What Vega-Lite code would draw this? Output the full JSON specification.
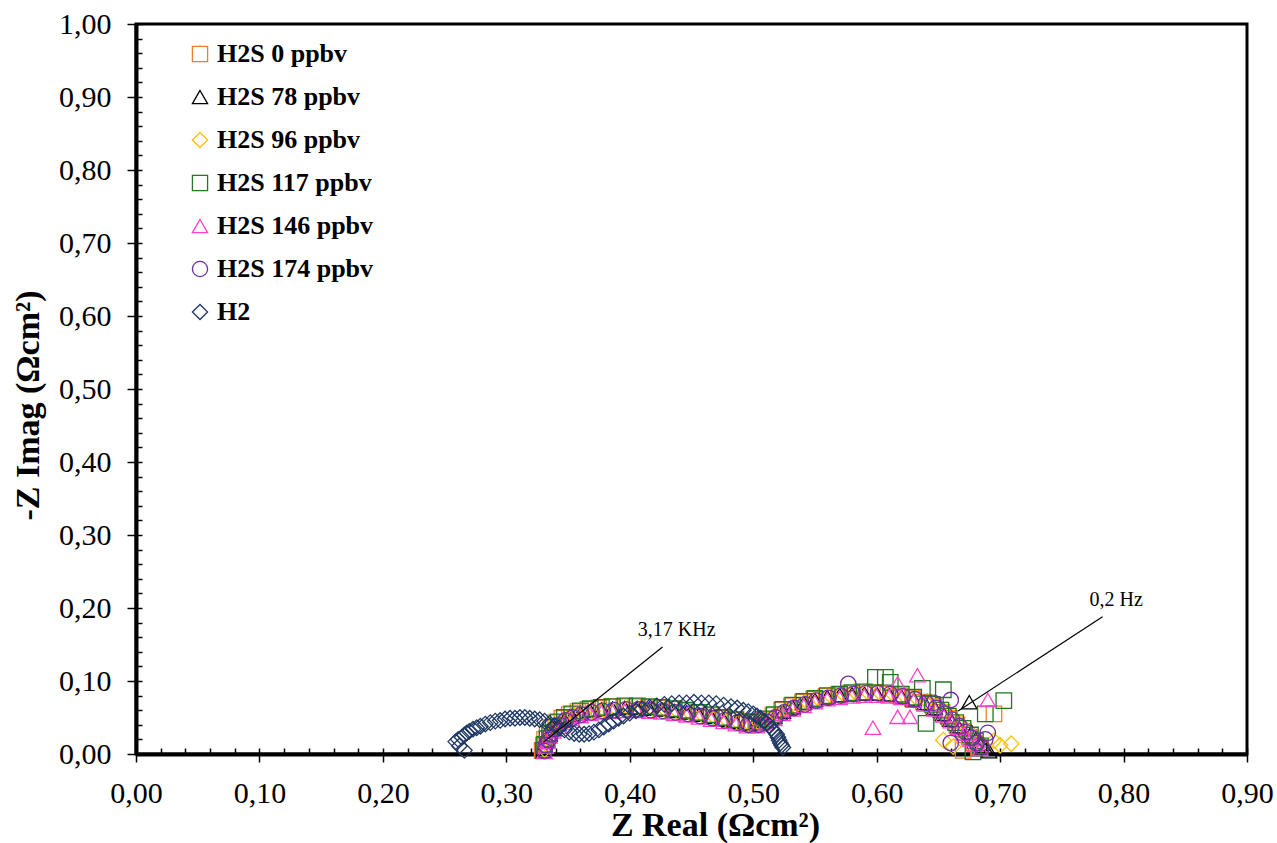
{
"$schema": "https://vega.github.io/schema/vega-lite/v6.json",
"width": 1111, "height": 730,
"autosize": {"type": "none"},
"padding": {"left": 136, "top": 24, "right": 30, "bottom": 89},
"background": "white",
"config": {"view": {"stroke": "black", "strokeWidth": 3}, "font": "Liberation Serif"},
"datasets": {
"pts": [
{"s":"H2S 0 ppbv","x":0.329,"y":0.005},{"s":"H2S 0 ppbv","x":0.330,"y":0.012},{"s":"H2S 0 ppbv","x":0.331,"y":0.020},{"s":"H2S 0 ppbv","x":0.333,"y":0.028},{"s":"H2S 0 ppbv","x":0.336,"y":0.036},{"s":"H2S 0 ppbv","x":0.340,"y":0.043},{"s":"H2S 0 ppbv","x":0.345,"y":0.049},{"s":"H2S 0 ppbv","x":0.351,"y":0.054},{"s":"H2S 0 ppbv","x":0.358,"y":0.058},{"s":"H2S 0 ppbv","x":0.366,"y":0.061},{"s":"H2S 0 ppbv","x":0.375,"y":0.063},{"s":"H2S 0 ppbv","x":0.385,"y":0.065},{"s":"H2S 0 ppbv","x":0.395,"y":0.065},{"s":"H2S 0 ppbv","x":0.405,"y":0.065},{"s":"H2S 0 ppbv","x":0.415,"y":0.064},{"s":"H2S 0 ppbv","x":0.425,"y":0.063},{"s":"H2S 0 ppbv","x":0.435,"y":0.061},{"s":"H2S 0 ppbv","x":0.445,"y":0.059},{"s":"H2S 0 ppbv","x":0.455,"y":0.056},{"s":"H2S 0 ppbv","x":0.465,"y":0.053},{"s":"H2S 0 ppbv","x":0.475,"y":0.049},{"s":"H2S 0 ppbv","x":0.485,"y":0.046},{"s":"H2S 0 ppbv","x":0.494,"y":0.043},{"s":"H2S 0 ppbv","x":0.502,"y":0.043},{"s":"H2S 0 ppbv","x":0.509,"y":0.047},{"s":"H2S 0 ppbv","x":0.516,"y":0.053},{"s":"H2S 0 ppbv","x":0.523,"y":0.060},{"s":"H2S 0 ppbv","x":0.531,"y":0.066},{"s":"H2S 0 ppbv","x":0.540,"y":0.071},{"s":"H2S 0 ppbv","x":0.549,"y":0.075},{"s":"H2S 0 ppbv","x":0.559,"y":0.079},{"s":"H2S 0 ppbv","x":0.569,"y":0.081},{"s":"H2S 0 ppbv","x":0.579,"y":0.083},{"s":"H2S 0 ppbv","x":0.589,"y":0.084},{"s":"H2S 0 ppbv","x":0.599,"y":0.084},{"s":"H2S 0 ppbv","x":0.609,"y":0.082},{"s":"H2S 0 ppbv","x":0.619,"y":0.080},{"s":"H2S 0 ppbv","x":0.629,"y":0.076},{"s":"H2S 0 ppbv","x":0.638,"y":0.071},{"s":"H2S 0 ppbv","x":0.646,"y":0.065},{"s":"H2S 0 ppbv","x":0.653,"y":0.057},{"s":"H2S 0 ppbv","x":0.659,"y":0.049},{"s":"H2S 0 ppbv","x":0.665,"y":0.040},{"s":"H2S 0 ppbv","x":0.670,"y":0.031},{"s":"H2S 0 ppbv","x":0.675,"y":0.023},{"s":"H2S 0 ppbv","x":0.679,"y":0.015},{"s":"H2S 0 ppbv","x":0.683,"y":0.009},{"s":"H2S 0 ppbv","x":0.695,"y":0.055},{"s":"H2S 0 ppbv","x":0.670,"y":0.005},
{"s":"H2S 78 ppbv","x":0.330,"y":0.004},{"s":"H2S 78 ppbv","x":0.331,"y":0.011},{"s":"H2S 78 ppbv","x":0.333,"y":0.019},{"s":"H2S 78 ppbv","x":0.335,"y":0.027},{"s":"H2S 78 ppbv","x":0.338,"y":0.034},{"s":"H2S 78 ppbv","x":0.342,"y":0.041},{"s":"H2S 78 ppbv","x":0.347,"y":0.047},{"s":"H2S 78 ppbv","x":0.353,"y":0.052},{"s":"H2S 78 ppbv","x":0.360,"y":0.056},{"s":"H2S 78 ppbv","x":0.368,"y":0.059},{"s":"H2S 78 ppbv","x":0.377,"y":0.061},{"s":"H2S 78 ppbv","x":0.386,"y":0.062},{"s":"H2S 78 ppbv","x":0.396,"y":0.063},{"s":"H2S 78 ppbv","x":0.406,"y":0.063},{"s":"H2S 78 ppbv","x":0.416,"y":0.062},{"s":"H2S 78 ppbv","x":0.426,"y":0.061},{"s":"H2S 78 ppbv","x":0.436,"y":0.059},{"s":"H2S 78 ppbv","x":0.446,"y":0.057},{"s":"H2S 78 ppbv","x":0.456,"y":0.054},{"s":"H2S 78 ppbv","x":0.466,"y":0.051},{"s":"H2S 78 ppbv","x":0.476,"y":0.047},{"s":"H2S 78 ppbv","x":0.486,"y":0.044},{"s":"H2S 78 ppbv","x":0.495,"y":0.041},{"s":"H2S 78 ppbv","x":0.503,"y":0.041},{"s":"H2S 78 ppbv","x":0.510,"y":0.045},{"s":"H2S 78 ppbv","x":0.517,"y":0.051},{"s":"H2S 78 ppbv","x":0.524,"y":0.058},{"s":"H2S 78 ppbv","x":0.532,"y":0.064},{"s":"H2S 78 ppbv","x":0.541,"y":0.070},{"s":"H2S 78 ppbv","x":0.550,"y":0.074},{"s":"H2S 78 ppbv","x":0.560,"y":0.078},{"s":"H2S 78 ppbv","x":0.570,"y":0.081},{"s":"H2S 78 ppbv","x":0.580,"y":0.082},{"s":"H2S 78 ppbv","x":0.590,"y":0.083},{"s":"H2S 78 ppbv","x":0.600,"y":0.083},{"s":"H2S 78 ppbv","x":0.610,"y":0.082},{"s":"H2S 78 ppbv","x":0.620,"y":0.079},{"s":"H2S 78 ppbv","x":0.630,"y":0.075},{"s":"H2S 78 ppbv","x":0.639,"y":0.070},{"s":"H2S 78 ppbv","x":0.647,"y":0.063},{"s":"H2S 78 ppbv","x":0.654,"y":0.055},{"s":"H2S 78 ppbv","x":0.660,"y":0.047},{"s":"H2S 78 ppbv","x":0.666,"y":0.038},{"s":"H2S 78 ppbv","x":0.675,"y":0.071},{"s":"H2S 78 ppbv","x":0.677,"y":0.030},{"s":"H2S 78 ppbv","x":0.681,"y":0.022},{"s":"H2S 78 ppbv","x":0.685,"y":0.014},{"s":"H2S 78 ppbv","x":0.688,"y":0.008},{"s":"H2S 78 ppbv","x":0.691,"y":0.004},
{"s":"H2S 96 ppbv","x":0.331,"y":0.006},{"s":"H2S 96 ppbv","x":0.332,"y":0.014},{"s":"H2S 96 ppbv","x":0.334,"y":0.022},{"s":"H2S 96 ppbv","x":0.336,"y":0.030},{"s":"H2S 96 ppbv","x":0.339,"y":0.037},{"s":"H2S 96 ppbv","x":0.343,"y":0.043},{"s":"H2S 96 ppbv","x":0.348,"y":0.049},{"s":"H2S 96 ppbv","x":0.355,"y":0.053},{"s":"H2S 96 ppbv","x":0.362,"y":0.057},{"s":"H2S 96 ppbv","x":0.370,"y":0.059},{"s":"H2S 96 ppbv","x":0.379,"y":0.061},{"s":"H2S 96 ppbv","x":0.389,"y":0.062},{"s":"H2S 96 ppbv","x":0.399,"y":0.063},{"s":"H2S 96 ppbv","x":0.409,"y":0.062},{"s":"H2S 96 ppbv","x":0.419,"y":0.062},{"s":"H2S 96 ppbv","x":0.429,"y":0.060},{"s":"H2S 96 ppbv","x":0.439,"y":0.058},{"s":"H2S 96 ppbv","x":0.449,"y":0.056},{"s":"H2S 96 ppbv","x":0.459,"y":0.053},{"s":"H2S 96 ppbv","x":0.469,"y":0.050},{"s":"H2S 96 ppbv","x":0.479,"y":0.046},{"s":"H2S 96 ppbv","x":0.488,"y":0.043},{"s":"H2S 96 ppbv","x":0.497,"y":0.041},{"s":"H2S 96 ppbv","x":0.505,"y":0.042},{"s":"H2S 96 ppbv","x":0.512,"y":0.047},{"s":"H2S 96 ppbv","x":0.519,"y":0.053},{"s":"H2S 96 ppbv","x":0.526,"y":0.060},{"s":"H2S 96 ppbv","x":0.534,"y":0.066},{"s":"H2S 96 ppbv","x":0.543,"y":0.072},{"s":"H2S 96 ppbv","x":0.552,"y":0.077},{"s":"H2S 96 ppbv","x":0.562,"y":0.081},{"s":"H2S 96 ppbv","x":0.572,"y":0.084},{"s":"H2S 96 ppbv","x":0.582,"y":0.086},{"s":"H2S 96 ppbv","x":0.592,"y":0.086},{"s":"H2S 96 ppbv","x":0.602,"y":0.085},{"s":"H2S 96 ppbv","x":0.612,"y":0.084},{"s":"H2S 96 ppbv","x":0.622,"y":0.081},{"s":"H2S 96 ppbv","x":0.632,"y":0.077},{"s":"H2S 96 ppbv","x":0.641,"y":0.072},{"s":"H2S 96 ppbv","x":0.649,"y":0.066},{"s":"H2S 96 ppbv","x":0.656,"y":0.058},{"s":"H2S 96 ppbv","x":0.662,"y":0.050},{"s":"H2S 96 ppbv","x":0.668,"y":0.041},{"s":"H2S 96 ppbv","x":0.673,"y":0.033},{"s":"H2S 96 ppbv","x":0.678,"y":0.025},{"s":"H2S 96 ppbv","x":0.683,"y":0.018},{"s":"H2S 96 ppbv","x":0.654,"y":0.019},{"s":"H2S 96 ppbv","x":0.662,"y":0.010},{"s":"H2S 96 ppbv","x":0.695,"y":0.018},{"s":"H2S 96 ppbv","x":0.700,"y":0.012},{"s":"H2S 96 ppbv","x":0.709,"y":0.014},
{"s":"H2S 117 ppbv","x":0.330,"y":0.005},{"s":"H2S 117 ppbv","x":0.331,"y":0.013},{"s":"H2S 117 ppbv","x":0.333,"y":0.021},{"s":"H2S 117 ppbv","x":0.335,"y":0.029},{"s":"H2S 117 ppbv","x":0.338,"y":0.037},{"s":"H2S 117 ppbv","x":0.342,"y":0.044},{"s":"H2S 117 ppbv","x":0.347,"y":0.050},{"s":"H2S 117 ppbv","x":0.353,"y":0.055},{"s":"H2S 117 ppbv","x":0.360,"y":0.059},{"s":"H2S 117 ppbv","x":0.368,"y":0.062},{"s":"H2S 117 ppbv","x":0.377,"y":0.064},{"s":"H2S 117 ppbv","x":0.386,"y":0.065},{"s":"H2S 117 ppbv","x":0.396,"y":0.066},{"s":"H2S 117 ppbv","x":0.406,"y":0.066},{"s":"H2S 117 ppbv","x":0.416,"y":0.065},{"s":"H2S 117 ppbv","x":0.426,"y":0.064},{"s":"H2S 117 ppbv","x":0.436,"y":0.062},{"s":"H2S 117 ppbv","x":0.446,"y":0.060},{"s":"H2S 117 ppbv","x":0.456,"y":0.057},{"s":"H2S 117 ppbv","x":0.466,"y":0.054},{"s":"H2S 117 ppbv","x":0.476,"y":0.050},{"s":"H2S 117 ppbv","x":0.486,"y":0.047},{"s":"H2S 117 ppbv","x":0.495,"y":0.044},{"s":"H2S 117 ppbv","x":0.503,"y":0.044},{"s":"H2S 117 ppbv","x":0.510,"y":0.048},{"s":"H2S 117 ppbv","x":0.517,"y":0.054},{"s":"H2S 117 ppbv","x":0.524,"y":0.061},{"s":"H2S 117 ppbv","x":0.532,"y":0.067},{"s":"H2S 117 ppbv","x":0.541,"y":0.072},{"s":"H2S 117 ppbv","x":0.550,"y":0.076},{"s":"H2S 117 ppbv","x":0.560,"y":0.080},{"s":"H2S 117 ppbv","x":0.570,"y":0.082},{"s":"H2S 117 ppbv","x":0.580,"y":0.084},{"s":"H2S 117 ppbv","x":0.590,"y":0.085},{"s":"H2S 117 ppbv","x":0.599,"y":0.105},{"s":"H2S 117 ppbv","x":0.607,"y":0.105},{"s":"H2S 117 ppbv","x":0.611,"y":0.098},{"s":"H2S 117 ppbv","x":0.620,"y":0.082},{"s":"H2S 117 ppbv","x":0.630,"y":0.078},{"s":"H2S 117 ppbv","x":0.637,"y":0.090},{"s":"H2S 117 ppbv","x":0.645,"y":0.068},{"s":"H2S 117 ppbv","x":0.654,"y":0.088},{"s":"H2S 117 ppbv","x":0.652,"y":0.060},{"s":"H2S 117 ppbv","x":0.658,"y":0.052},{"s":"H2S 117 ppbv","x":0.664,"y":0.043},{"s":"H2S 117 ppbv","x":0.640,"y":0.042},{"s":"H2S 117 ppbv","x":0.670,"y":0.035},{"s":"H2S 117 ppbv","x":0.676,"y":0.026},{"s":"H2S 117 ppbv","x":0.680,"y":0.018},{"s":"H2S 117 ppbv","x":0.684,"y":0.011},{"s":"H2S 117 ppbv","x":0.688,"y":0.055},{"s":"H2S 117 ppbv","x":0.703,"y":0.073},{"s":"H2S 117 ppbv","x":0.678,"y":0.003},
{"s":"H2S 146 ppbv","x":0.331,"y":0.003},{"s":"H2S 146 ppbv","x":0.332,"y":0.010},{"s":"H2S 146 ppbv","x":0.333,"y":0.017},{"s":"H2S 146 ppbv","x":0.335,"y":0.024},{"s":"H2S 146 ppbv","x":0.338,"y":0.031},{"s":"H2S 146 ppbv","x":0.342,"y":0.037},{"s":"H2S 146 ppbv","x":0.347,"y":0.043},{"s":"H2S 146 ppbv","x":0.353,"y":0.048},{"s":"H2S 146 ppbv","x":0.360,"y":0.052},{"s":"H2S 146 ppbv","x":0.368,"y":0.055},{"s":"H2S 146 ppbv","x":0.377,"y":0.057},{"s":"H2S 146 ppbv","x":0.386,"y":0.058},{"s":"H2S 146 ppbv","x":0.396,"y":0.059},{"s":"H2S 146 ppbv","x":0.406,"y":0.059},{"s":"H2S 146 ppbv","x":0.416,"y":0.058},{"s":"H2S 146 ppbv","x":0.426,"y":0.057},{"s":"H2S 146 ppbv","x":0.436,"y":0.055},{"s":"H2S 146 ppbv","x":0.446,"y":0.053},{"s":"H2S 146 ppbv","x":0.456,"y":0.050},{"s":"H2S 146 ppbv","x":0.466,"y":0.047},{"s":"H2S 146 ppbv","x":0.476,"y":0.044},{"s":"H2S 146 ppbv","x":0.486,"y":0.041},{"s":"H2S 146 ppbv","x":0.495,"y":0.038},{"s":"H2S 146 ppbv","x":0.503,"y":0.038},{"s":"H2S 146 ppbv","x":0.510,"y":0.042},{"s":"H2S 146 ppbv","x":0.517,"y":0.048},{"s":"H2S 146 ppbv","x":0.524,"y":0.055},{"s":"H2S 146 ppbv","x":0.532,"y":0.061},{"s":"H2S 146 ppbv","x":0.541,"y":0.066},{"s":"H2S 146 ppbv","x":0.550,"y":0.071},{"s":"H2S 146 ppbv","x":0.560,"y":0.075},{"s":"H2S 146 ppbv","x":0.570,"y":0.077},{"s":"H2S 146 ppbv","x":0.580,"y":0.079},{"s":"H2S 146 ppbv","x":0.590,"y":0.080},{"s":"H2S 146 ppbv","x":0.597,"y":0.036},{"s":"H2S 146 ppbv","x":0.600,"y":0.080},{"s":"H2S 146 ppbv","x":0.610,"y":0.079},{"s":"H2S 146 ppbv","x":0.617,"y":0.051},{"s":"H2S 146 ppbv","x":0.617,"y":0.097},{"s":"H2S 146 ppbv","x":0.620,"y":0.077},{"s":"H2S 146 ppbv","x":0.627,"y":0.051},{"s":"H2S 146 ppbv","x":0.633,"y":0.108},{"s":"H2S 146 ppbv","x":0.630,"y":0.073},{"s":"H2S 146 ppbv","x":0.639,"y":0.068},{"s":"H2S 146 ppbv","x":0.647,"y":0.061},{"s":"H2S 146 ppbv","x":0.654,"y":0.053},{"s":"H2S 146 ppbv","x":0.660,"y":0.045},{"s":"H2S 146 ppbv","x":0.666,"y":0.036},{"s":"H2S 146 ppbv","x":0.671,"y":0.028},{"s":"H2S 146 ppbv","x":0.676,"y":0.020},{"s":"H2S 146 ppbv","x":0.680,"y":0.013},{"s":"H2S 146 ppbv","x":0.690,"y":0.074},{"s":"H2S 146 ppbv","x":0.684,"y":0.007},
{"s":"H2S 174 ppbv","x":0.331,"y":0.004},{"s":"H2S 174 ppbv","x":0.332,"y":0.012},{"s":"H2S 174 ppbv","x":0.334,"y":0.019},{"s":"H2S 174 ppbv","x":0.336,"y":0.027},{"s":"H2S 174 ppbv","x":0.339,"y":0.034},{"s":"H2S 174 ppbv","x":0.343,"y":0.040},{"s":"H2S 174 ppbv","x":0.348,"y":0.046},{"s":"H2S 174 ppbv","x":0.354,"y":0.050},{"s":"H2S 174 ppbv","x":0.361,"y":0.054},{"s":"H2S 174 ppbv","x":0.369,"y":0.057},{"s":"H2S 174 ppbv","x":0.378,"y":0.059},{"s":"H2S 174 ppbv","x":0.387,"y":0.060},{"s":"H2S 174 ppbv","x":0.397,"y":0.061},{"s":"H2S 174 ppbv","x":0.407,"y":0.061},{"s":"H2S 174 ppbv","x":0.417,"y":0.060},{"s":"H2S 174 ppbv","x":0.427,"y":0.059},{"s":"H2S 174 ppbv","x":0.437,"y":0.057},{"s":"H2S 174 ppbv","x":0.447,"y":0.055},{"s":"H2S 174 ppbv","x":0.457,"y":0.052},{"s":"H2S 174 ppbv","x":0.467,"y":0.049},{"s":"H2S 174 ppbv","x":0.477,"y":0.046},{"s":"H2S 174 ppbv","x":0.487,"y":0.043},{"s":"H2S 174 ppbv","x":0.496,"y":0.040},{"s":"H2S 174 ppbv","x":0.504,"y":0.040},{"s":"H2S 174 ppbv","x":0.511,"y":0.044},{"s":"H2S 174 ppbv","x":0.518,"y":0.050},{"s":"H2S 174 ppbv","x":0.525,"y":0.057},{"s":"H2S 174 ppbv","x":0.533,"y":0.063},{"s":"H2S 174 ppbv","x":0.542,"y":0.068},{"s":"H2S 174 ppbv","x":0.551,"y":0.073},{"s":"H2S 174 ppbv","x":0.561,"y":0.077},{"s":"H2S 174 ppbv","x":0.571,"y":0.080},{"s":"H2S 174 ppbv","x":0.577,"y":0.096},{"s":"H2S 174 ppbv","x":0.581,"y":0.082},{"s":"H2S 174 ppbv","x":0.591,"y":0.083},{"s":"H2S 174 ppbv","x":0.601,"y":0.083},{"s":"H2S 174 ppbv","x":0.611,"y":0.082},{"s":"H2S 174 ppbv","x":0.621,"y":0.079},{"s":"H2S 174 ppbv","x":0.631,"y":0.075},{"s":"H2S 174 ppbv","x":0.640,"y":0.070},{"s":"H2S 174 ppbv","x":0.646,"y":0.070},{"s":"H2S 174 ppbv","x":0.648,"y":0.063},{"s":"H2S 174 ppbv","x":0.655,"y":0.055},{"s":"H2S 174 ppbv","x":0.660,"y":0.074},{"s":"H2S 174 ppbv","x":0.661,"y":0.047},{"s":"H2S 174 ppbv","x":0.667,"y":0.038},{"s":"H2S 174 ppbv","x":0.660,"y":0.015},{"s":"H2S 174 ppbv","x":0.672,"y":0.030},{"s":"H2S 174 ppbv","x":0.677,"y":0.022},{"s":"H2S 174 ppbv","x":0.681,"y":0.015},{"s":"H2S 174 ppbv","x":0.685,"y":0.009},{"s":"H2S 174 ppbv","x":0.690,"y":0.029},{"s":"H2S 174 ppbv","x":0.688,"y":0.020},
{"s":"H2","x":0.259,"y":0.017},{"s":"H2","x":0.262,"y":0.011},{"s":"H2","x":0.266,"y":0.005},{"s":"H2","x":0.261,"y":0.020},{"s":"H2","x":0.264,"y":0.023},{"s":"H2","x":0.266,"y":0.026},{"s":"H2","x":0.268,"y":0.029},{"s":"H2","x":0.270,"y":0.031},{"s":"H2","x":0.273,"y":0.034},{"s":"H2","x":0.276,"y":0.036},{"s":"H2","x":0.279,"y":0.038},{"s":"H2","x":0.283,"y":0.041},{"s":"H2","x":0.287,"y":0.043},{"s":"H2","x":0.291,"y":0.045},{"s":"H2","x":0.295,"y":0.046},{"s":"H2","x":0.299,"y":0.048},{"s":"H2","x":0.303,"y":0.049},{"s":"H2","x":0.307,"y":0.049},{"s":"H2","x":0.311,"y":0.050},{"s":"H2","x":0.315,"y":0.050},{"s":"H2","x":0.319,"y":0.049},{"s":"H2","x":0.323,"y":0.048},{"s":"H2","x":0.327,"y":0.047},{"s":"H2","x":0.331,"y":0.045},{"s":"H2","x":0.335,"y":0.042},{"s":"H2","x":0.339,"y":0.039},{"s":"H2","x":0.343,"y":0.036},{"s":"H2","x":0.347,"y":0.033},{"s":"H2","x":0.351,"y":0.030},{"s":"H2","x":0.355,"y":0.028},{"s":"H2","x":0.359,"y":0.027},{"s":"H2","x":0.363,"y":0.027},{"s":"H2","x":0.367,"y":0.028},{"s":"H2","x":0.371,"y":0.030},{"s":"H2","x":0.375,"y":0.033},{"s":"H2","x":0.379,"y":0.037},{"s":"H2","x":0.383,"y":0.041},{"s":"H2","x":0.387,"y":0.045},{"s":"H2","x":0.391,"y":0.049},{"s":"H2","x":0.395,"y":0.052},{"s":"H2","x":0.400,"y":0.056},{"s":"H2","x":0.405,"y":0.059},{"s":"H2","x":0.410,"y":0.062},{"s":"H2","x":0.416,"y":0.064},{"s":"H2","x":0.422,"y":0.066},{"s":"H2","x":0.428,"y":0.068},{"s":"H2","x":0.434,"y":0.069},{"s":"H2","x":0.440,"y":0.070},{"s":"H2","x":0.446,"y":0.070},{"s":"H2","x":0.452,"y":0.071},{"s":"H2","x":0.458,"y":0.070},{"s":"H2","x":0.464,"y":0.070},{"s":"H2","x":0.470,"y":0.069},{"s":"H2","x":0.476,"y":0.067},{"s":"H2","x":0.482,"y":0.065},{"s":"H2","x":0.487,"y":0.063},{"s":"H2","x":0.492,"y":0.060},{"s":"H2","x":0.496,"y":0.058},{"s":"H2","x":0.500,"y":0.055},{"s":"H2","x":0.503,"y":0.052},{"s":"H2","x":0.506,"y":0.049},{"s":"H2","x":0.509,"y":0.045},{"s":"H2","x":0.511,"y":0.042},{"s":"H2","x":0.513,"y":0.039},{"s":"H2","x":0.515,"y":0.035},{"s":"H2","x":0.517,"y":0.031},{"s":"H2","x":0.519,"y":0.027},{"s":"H2","x":0.520,"y":0.023},{"s":"H2","x":0.521,"y":0.019},{"s":"H2","x":0.522,"y":0.015},{"s":"H2","x":0.523,"y":0.012},{"s":"H2","x":0.524,"y":0.009}
],
"lines": [
{"x":0.4265,"y":0.1466,"x2":0.330,"y2":0.016},
{"x":0.783,"y":0.188,"x2":0.666,"y2":0.059}
],
"labels": [
{"x":0.438,"y":0.170,"t":"3,17 KHz"},
{"x":0.794,"y":0.211,"t":"0,2 Hz"}
]
},
"layer": [
{
"data": {"name": "pts"},
"mark": {"type": "point", "filled": false, "strokeWidth": 1.3, "size": 240, "opacity": 1},
"encoding": {
"x": {"field": "x", "type": "quantitative", "scale": {"domain": [0, 0.9], "nice": false, "zero": false},
 "axis": {"orient": "bottom", "values": [0,0.1,0.2,0.3,0.4,0.5,0.6,0.7,0.8,0.9], "labelExpr": "replace(format(datum.value,'.2f'),'.',',')", "labelFont": "Liberation Serif", "labelFontSize": 30, "labelColor": "black", "labelFlush": false, "labelOverlap": false, "labelPadding": 16, "tickColor": "black", "tickSize": 8, "tickWidth": 1.5, "domainColor": "black", "domainWidth": 4, "grid": false, "title": "Z Real (Ωcm²)", "titleFont": "Liberation Serif", "titleFontWeight": "bold", "titleFontSize": 34, "titleColor": "black", "titleX": 579, "titleY": 71, "titleBaseline": "middle", "titleAlign": "center"}},
"y": {"field": "y", "type": "quantitative", "scale": {"domain": [0, 1], "nice": false, "zero": false},
 "axis": {"orient": "left", "values": [0,0.1,0.2,0.3,0.4,0.5,0.6,0.7,0.8,0.9,1], "labelExpr": "replace(format(datum.value,'.2f'),'.',',')", "labelFont": "Liberation Serif", "labelFontSize": 30, "labelColor": "black", "labelFlush": false, "labelOverlap": false, "labelPadding": 16, "tickColor": "black", "tickSize": 9, "tickWidth": 1.5, "domainColor": "black", "domainWidth": 4, "grid": false, "title": "-Z Imag (Ωcm²)", "titleFont": "Liberation Serif", "titleFontWeight": "bold", "titleFontSize": 34, "titleColor": "black", "titleX": -108, "titleY": 381, "titleBaseline": "middle", "titleAlign": "center", "titleAngle": 270}},
"color": {"field": "s", "type": "nominal", "scale": {"domain": ["H2S 0 ppbv","H2S 78 ppbv","H2S 96 ppbv","H2S 117 ppbv","H2S 146 ppbv","H2S 174 ppbv","H2"], "range": ["#ED7D31","#000000","#FFC000","#217821","#FF40CC","#7030A0","#1F3864"]},
 "legend": {"title": null, "orient": "none", "legendX": 51, "legendY": 17, "padding": 0, "labelFont": "Liberation Serif", "labelFontWeight": "bold", "labelFontSize": 26, "labelColor": "black", "labelOffset": 4, "symbolSize": 230, "symbolStrokeWidth": 1.3, "rowPadding": 17}},
"shape": {"field": "s", "type": "nominal", "scale": {"domain": ["H2S 0 ppbv","H2S 78 ppbv","H2S 96 ppbv","H2S 117 ppbv","H2S 146 ppbv","H2S 174 ppbv","H2"], "range": ["square","triangle-up","diamond","square","triangle-up","circle","diamond"]},
 "legend": {"title": null, "orient": "none", "legendX": 51, "legendY": 17, "padding": 0, "labelFont": "Liberation Serif", "labelFontWeight": "bold", "labelFontSize": 26, "labelColor": "black", "labelOffset": 4, "symbolSize": 230, "symbolStrokeWidth": 1.3, "rowPadding": 17}}
}
},
{
"data": {"name": "lines"},
"mark": {"type": "rule", "color": "black", "strokeWidth": 1.2},
"encoding": {
"x": {"field": "x", "type": "quantitative", "axis": {"orient": "bottom", "values": [0,0.02,0.04,0.06,0.08,0.1,0.12,0.14,0.16,0.18,0.2,0.22,0.24,0.26,0.28,0.3,0.32,0.34,0.36,0.38,0.4,0.42,0.44,0.46,0.48,0.5,0.52,0.54,0.56,0.58,0.6,0.62,0.64,0.66,0.68,0.7,0.72,0.74,0.76,0.78,0.8,0.82,0.84,0.86,0.88,0.9], "labels": false, "domain": false, "grid": false, "title": null, "tickColor": "black", "tickWidth": 1.5, "tickSize": -6}},
"y": {"field": "y", "type": "quantitative", "axis": {"orient": "left", "values": [0,0.02,0.04,0.06,0.08,0.1,0.12,0.14,0.16,0.18,0.2,0.22,0.24,0.26,0.28,0.3,0.32,0.34,0.36,0.38,0.4,0.42,0.44,0.46,0.48,0.5,0.52,0.54,0.56,0.58,0.6,0.62,0.64,0.66,0.68,0.7,0.72,0.74,0.76,0.78,0.8,0.82,0.84,0.86,0.88,0.9,0.92,0.94,0.96,0.98,1], "labels": false, "domain": false, "grid": false, "title": null, "tickColor": "black", "tickWidth": 1.5, "tickSize": -6}},
"x2": {"field": "x2"},
"y2": {"field": "y2"}
}
},
{
"data": {"name": "labels"},
"mark": {"type": "text", "font": "Liberation Serif", "fontSize": 20, "align": "center", "baseline": "middle", "color": "black"},
"encoding": {
"x": {"field": "x", "type": "quantitative", "axis": null},
"y": {"field": "y", "type": "quantitative", "axis": null},
"text": {"field": "t"}
}
}
],
"resolve": {"axis": {"x": "independent", "y": "independent"}}
}
